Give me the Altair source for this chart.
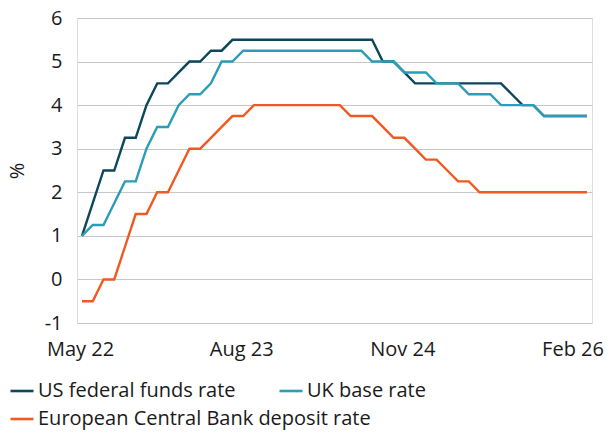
import altair as alt
import pandas as pd

# Monthly observations, May 2022 to April 2026
months = pd.date_range("2022-05-01", "2026-04-01", freq="MS")
month_labels = [d.strftime("%b %y") for d in months]

us_rate = [
    1.0, 1.75, 2.5, 2.5, 3.25, 3.25, 4.0, 4.5,
    4.5, 4.75, 5.0, 5.0, 5.25, 5.25, 5.5, 5.5, 5.5, 5.5, 5.5, 5.5,
    5.5, 5.5, 5.5, 5.5, 5.5, 5.5, 5.5, 5.5, 5.0, 5.0, 4.75, 4.5,
    4.5, 4.5, 4.5, 4.5, 4.5, 4.5, 4.5, 4.5, 4.25, 4.0, 4.0, 3.75,
    3.75, 3.75, 3.75, 3.75,
]
uk_rate = [
    1.0, 1.25, 1.25, 1.75, 2.25, 2.25, 3.0, 3.5,
    3.5, 4.0, 4.25, 4.25, 4.5, 5.0, 5.0, 5.25, 5.25, 5.25, 5.25, 5.25,
    5.25, 5.25, 5.25, 5.25, 5.25, 5.25, 5.25, 5.0, 5.0, 5.0, 4.75, 4.75,
    4.75, 4.5, 4.5, 4.5, 4.25, 4.25, 4.25, 4.0, 4.0, 4.0, 4.0, 3.75,
    3.75, 3.75, 3.75, 3.75,
]
ecb_rate = [
    -0.5, -0.5, 0.0, 0.0, 0.75, 1.5, 1.5, 2.0,
    2.0, 2.5, 3.0, 3.0, 3.25, 3.5, 3.75, 3.75, 4.0, 4.0, 4.0, 4.0,
    4.0, 4.0, 4.0, 4.0, 4.0, 3.75, 3.75, 3.75, 3.5, 3.25, 3.25, 3.0,
    2.75, 2.75, 2.5, 2.25, 2.25, 2.0, 2.0, 2.0, 2.0, 2.0, 2.0, 2.0,
    2.0, 2.0, 2.0, 2.0,
]

US = "US federal funds rate"
UK = "UK base rate"
ECB = "European Central Bank deposit rate"
US_COLOR = "#0c475b"
UK_COLOR = "#2a9db8"
ECB_COLOR = "#f05a22"

# Draw order: ECB first, then US, with the UK line on top
rows = []
for name, vals in [(ECB, ecb_rate), (US, us_rate), (UK, uk_rate)]:
    for i, v in enumerate(vals):
        rows.append({"idx": i, "month": month_labels[i], "series": name, "rate": v})
df = pd.DataFrame(rows)

tick_idx = [0, 15, 30, 45]
label_expr = " : ".join(
    f"datum.value == {i} ? '{month_labels[i]}'" for i in tick_idx
) + " : ''"

FONT = "Open Sans"
TEXT = "#1a1a1a"
FS = 20

x_enc = alt.X(
    "idx:Q",
    scale=alt.Scale(domain=[-0.465, 47.465], nice=False, zero=False),
    axis=alt.Axis(
        values=tick_idx,
        labelExpr=label_expr,
        title=None,
        grid=False,
        ticks=False,
        domain=False,
        labelPadding=16,
        labelFont=FONT,
        labelFontSize=FS,
        labelColor=TEXT,
        labelOffset=alt.condition("datum.value == 45", alt.value(7), alt.value(-2)),
    ),
)
y_enc = alt.Y(
    "rate:Q",
    scale=alt.Scale(domain=[-1, 6], nice=False, zero=False),
    axis=alt.Axis(
        values=list(range(-1, 7)),
        labelExpr="toString(datum.value)",
        title="%",
        titleX=-60,
        titleY=152.5,
        titleAlign="center",
        titleBaseline="middle",
        titleFont=FONT,
        titleFontSize=FS,
        titleFontWeight="normal",
        titleColor=TEXT,
        grid=True,
        gridColor="#c6c6c6",
        gridWidth=1,
        domain=False,
        ticks=False,
        labelPadding=15,
        labelFont=FONT,
        labelFontSize=FS,
        labelColor=TEXT,
    ),
)


def legend_at(y):
    return alt.Legend(
        title=None,
        orient="none",
        legendX=-68,
        legendY=y,
        direction="horizontal",
        symbolType="stroke",
        symbolSize=529,
        symbolStrokeWidth=2.6,
        labelFont=FONT,
        labelFontSize=FS,
        labelColor=TEXT,
        labelOffset=3,
        labelLimit=0,
        columnPadding=38,
        padding=0,
    )


base = alt.Chart(df).mark_line(strokeWidth=2.4).encode(x=x_enc, y=y_enc)

ecb_line = base.transform_filter(alt.datum.series == ECB).encode(
    color=alt.Color(
        "series:N",
        scale=alt.Scale(domain=[ECB], range=[ECB_COLOR]),
        legend=legend_at(388),
    )
)
us_uk_lines = base.transform_filter(
    alt.FieldOneOfPredicate(field="series", oneOf=[US, UK])
).encode(
    color=alt.Color(
        "series:N",
        scale=alt.Scale(domain=[US, UK], range=[US_COLOR, UK_COLOR]),
        legend=legend_at(360),
    )
)

chart = (
    alt.layer(ecb_line, us_uk_lines)
    .resolve_scale(color="independent")
    .properties(
        width=515,
        height=305,
        padding={"left": 77, "top": 18, "right": 18, "bottom": 110},
        autosize=alt.AutoSizeParams(type="none"),
    )
    .configure_view(stroke=None)
    .configure(background="white")
)

chart.save("out.html", embed_options={"renderer": "svg", "actions": False})
